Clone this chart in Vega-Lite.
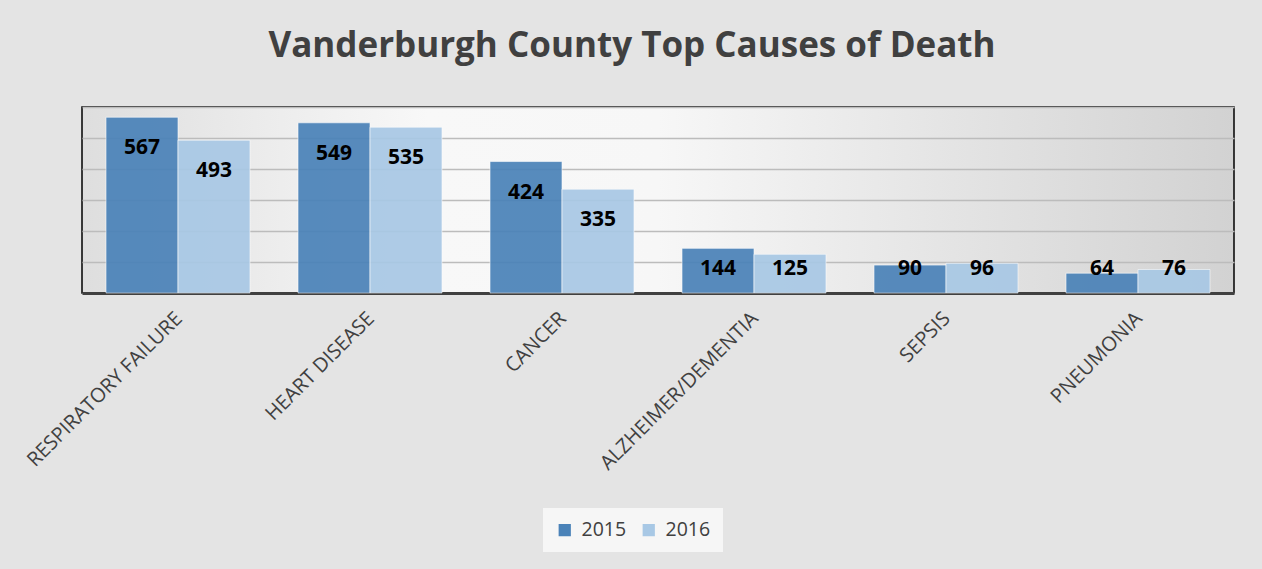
{
  "$schema": "https://vega.github.io/schema/vega-lite/v6.json",
  "width": 1152,
  "height": 186,
  "autosize": {"type": "none"},
  "padding": {"left": 82, "top": 107, "right": 28, "bottom": 276},
  "background": "#e4e4e4",
  "title": {
    "text": "Vanderburgh County Top Causes of Death",
    "font": "Open Sans",
    "fontSize": 35,
    "fontWeight": "bold",
    "color": "#404040",
    "anchor": "middle",
    "baseline": "alphabetic",
    "offset": 15,
    "dx": -26
  },
  "data": {
    "values": [
      {"cause": "RESPIRATORY FAILURE", "year": "2015", "value": 567},
      {"cause": "RESPIRATORY FAILURE", "year": "2016", "value": 493},
      {"cause": "HEART DISEASE", "year": "2015", "value": 549},
      {"cause": "HEART DISEASE", "year": "2016", "value": 535},
      {"cause": "CANCER", "year": "2015", "value": 424},
      {"cause": "CANCER", "year": "2016", "value": 335},
      {"cause": "ALZHEIMER/DEMENTIA", "year": "2015", "value": 144},
      {"cause": "ALZHEIMER/DEMENTIA", "year": "2016", "value": 125},
      {"cause": "SEPSIS", "year": "2015", "value": 90},
      {"cause": "SEPSIS", "year": "2016", "value": 96},
      {"cause": "PNEUMONIA", "year": "2015", "value": 64},
      {"cause": "PNEUMONIA", "year": "2016", "value": 76}
    ]
  },
  "encoding": {
    "x": {
      "field": "cause",
      "type": "nominal",
      "sort": null,
      "title": null,
      "scale": {"paddingInner": 0.25, "paddingOuter": 0.125},
      "axis": {
        "labelAngle": -45,
        "labelAlign": "right",
        "labelBaseline": "top",
        "labelFont": "Open Sans",
        "labelFontSize": 20,
        "labelColor": "#404040",
        "labelPadding": 15,
        "labelOffset": -6,
        "labelLimit": 400,
        "ticks": false,
        "domain": true,
        "domainColor": "#404040",
        "domainWidth": 3,
        "grid": false
      }
    },
    "xOffset": {"field": "year", "type": "nominal", "scale": {"paddingInner": 0, "paddingOuter": 0}}
  },
  "layer": [
    {
      "mark": {"type": "bar", "opacity": 0.92, "stroke": "#ffffff", "strokeWidth": 1, "strokeOpacity": 0.6},
      "encoding": {
        "y": {
          "field": "value",
          "type": "quantitative",
          "title": null,
          "scale": {"domain": [0, 600], "nice": false},
          "axis": {
            "values": [0, 100, 200, 300, 400, 500, 600],
            "labels": false,
            "ticks": false,
            "domain": false,
            "grid": true,
            "gridColor": "#bcbcbc",
            "gridWidth": 1.5
          }
        },
        "color": {
          "field": "year",
          "type": "nominal",
          "title": null,
          "scale": {"domain": ["2015", "2016"], "range": ["#4a82b8", "#a8c8e5"]},
          "legend": {
            "orient": "none",
            "legendX": 461,
            "legendY": 401,
            "direction": "horizontal",
            "columns": 2,
            "fillColor": "#f6f6f6",
            "padding": 12,
            "symbolType": "square",
            "symbolSize": 150,
            "symbolOpacity": 1,
            "symbolStrokeWidth": 0,
            "labelFont": "Open Sans",
            "labelFontSize": 19.5,
            "labelColor": "#404040",
            "labelOffset": 7,
            "columnPadding": 12
          }
        }
      }
    },
    {
      "transform": [{"calculate": "max(datum.value, 176)", "as": "labelPos"}],
      "mark": {"type": "text", "font": "Open Sans", "fontSize": 21, "fontWeight": "bold", "color": "#000000", "baseline": "middle", "dy": 31},
      "encoding": {
        "y": {
          "field": "labelPos",
          "type": "quantitative",
          "scale": {"domain": [0, 600], "nice": false},
          "axis": {
            "values": [0, 100, 200, 300, 400, 500, 600],
            "labels": false,
            "ticks": false,
            "domain": false,
            "grid": true,
            "gridColor": "#bcbcbc",
            "gridWidth": 1.5
          }
        },
        "text": {"field": "value", "type": "quantitative"}
      }
    }
  ],
  "config": {
    "view": {
      "stroke": "#000000",
      "strokeWidth": 1.5,
      "fill": {
        "gradient": "linear",
        "x1": 0, "y1": 0, "x2": 1, "y2": 0,
        "stops": [
          {"offset": 0, "color": "#dedede"},
          {"offset": 0.3, "color": "#f8f8f8"},
          {"offset": 0.5, "color": "#f7f7f7"},
          {"offset": 1, "color": "#d2d2d2"}
        ]
      }
    }
  }
}
